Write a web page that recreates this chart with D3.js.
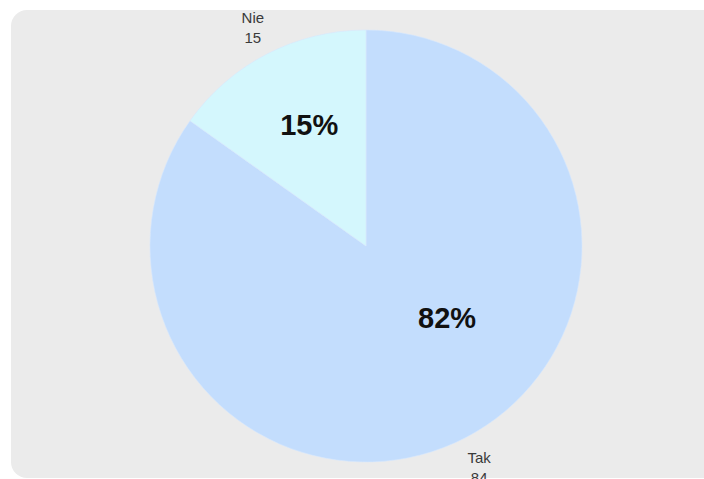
<!DOCTYPE html>
<html>
<head>
<meta charset="utf-8">
<script src="https://cdn.jsdelivr.net/npm/d3@7/dist/d3.min.js"></script>
<style>
  html, body { margin: 0; padding: 0; background: #ffffff; }
  svg { display: block; }
</style>
</head>
<body>
<svg id="chart" width="704" height="479"></svg>
<script>
// Survey answers
const categories = ["Tak", "Nie"];
const counts = [84, 15];
const shareLabels = ["82%", "15%"];
const sliceColors = ["#c3ddfd", "#d4f7fd"];

const width = 704, height = 479;
const svg = d3.select("#chart");

// Card background
svg.append("rect")
  .attr("x", 11).attr("y", 10)
  .attr("width", 720).attr("height", 468)
  .attr("rx", 16).attr("ry", 16)
  .attr("fill", "#ebebeb");

const cx = 366, cy = 246, radius = 216;
const g = svg.append("g").attr("transform", `translate(${cx},${cy})`);

const data = categories.map((c, i) => ({ name: c, value: counts[i], share: shareLabels[i], color: sliceColors[i] }));

const pie = d3.pie().sort(null).value(d => d.value);
const arcs = pie(data);
const arc = d3.arc().innerRadius(0).outerRadius(radius);

g.selectAll("path.slice")
  .data(arcs)
  .enter().append("path")
  .attr("class", "slice")
  .attr("d", arc)
  .attr("fill", d => d.data.color)
  .attr("stroke", "#d6e8fd")
  .attr("stroke-width", 0.6);

// Percentage labels inside the slices: angle as a fraction of each slice, radius from center
const shareSpot = { Tak: { t: 0.43, r: 108 }, Nie: { t: 0.54, r: 134 } };
g.selectAll("text.share")
  .data(arcs)
  .enter().append("text")
  .attr("class", "share")
  .attr("transform", d => {
    const s = shareSpot[d.data.name];
    const a = d.startAngle + s.t * (d.endAngle - d.startAngle);
    return `translate(${Math.sin(a) * s.r},${-Math.cos(a) * s.r})`;
  })
  .attr("text-anchor", "middle")
  .attr("dy", "0.36em")
  .attr("font-family", "Liberation Sans, Arial, sans-serif")
  .attr("font-weight", "bold")
  .attr("font-size", 29)
  .attr("fill", "#111")
  .text(d => d.data.share);

// Outside labels: category name and count at the slice middle
const outer = d3.arc().innerRadius(247).outerRadius(247);
const lab = g.selectAll("g.outlabel")
  .data(arcs)
  .enter().append("g")
  .attr("class", "outlabel")
  .attr("transform", d => { const [x, y] = outer.centroid(d); return `translate(${x},${y})`; });

lab.append("text")
  .attr("text-anchor", "middle")
  .attr("y", -3)
  .attr("font-family", "Liberation Sans, Arial, sans-serif")
  .attr("font-size", 15)
  .attr("fill", "#3a3a3a")
  .text(d => d.data.name);

lab.append("text")
  .attr("text-anchor", "middle")
  .attr("y", 17)
  .attr("font-family", "Liberation Sans, Arial, sans-serif")
  .attr("font-size", 15)
  .attr("fill", "#3a3a3a")
  .text(d => d.data.value);
</script>
</body>
</html>
